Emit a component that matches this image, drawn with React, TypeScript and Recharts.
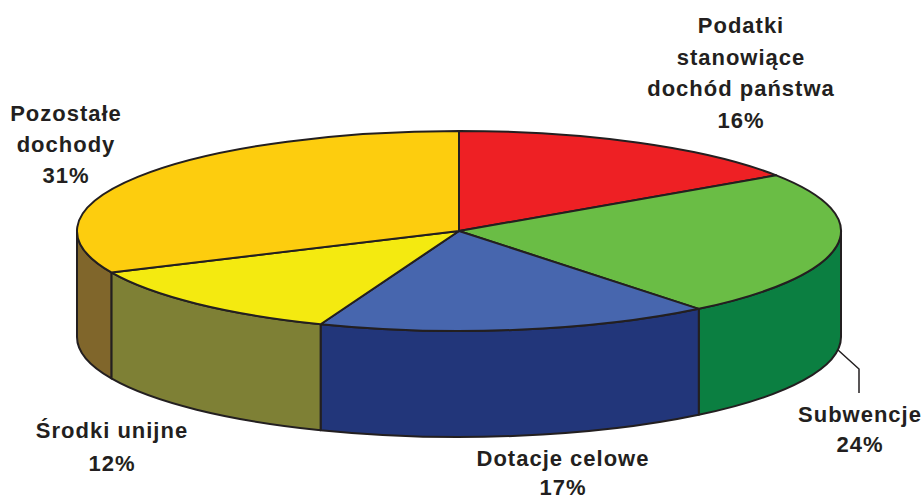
import React from 'react';
import { PieChart, Pie } from 'recharts';

const categories = ['Podatki stanowiące dochód państwa', 'Subwencje', 'Dotacje celowe', 'Środki unijne', 'Pozostałe dochody'];
const printedPercents = [16, 24, 17, 12, 31];
// Slice sweeps as drawn in the picture (in % of the full circle)
const sliceShares = [15.6, 23.6, 16.7, 12.3, 31.8];
const topColors = ['#ee2024', '#6abd45', '#4766ae', '#f4ea10', '#fdcd0e'];
const wallColors = ['#a01518', '#0b7f41', '#22367a', '#7e8035', '#80662b'];
const labelLines = [
  ['Podatki', 'stanowiące', 'dochód państwa'],
  ['Subwencje'],
  ['Dotacje celowe'],
  ['Środki unijne'],
  ['Pozostałe', 'dochody'],
];

const labelAnchors = [
  { x: 741, y: 33, step: 31.7 },
  { x: 860, y: 422, step: 30 },
  { x: 563, y: 466, step: 29 },
  { x: 112, y: 438, step: 33 },
  { x: 66, y: 121, step: 31 },
];

const W = 924;
const H = 499;
const CX = 459;
const CY = 231;
const RX = 382;
const TILT = 100 / 382;
const DEPTH = 106;
const INK = '#231f20';

const rows = categories.map((name, i) => ({
  name,
  value: sliceShares[i],
  percent: printedPercents[i],
}));

const rowIndex = (p: any) => categories.indexOf(p.name);

const pt = (p: any, thetaDeg: number, dy = 0) => {
  const t = (thetaDeg * Math.PI) / 180;
  const x = p.cx + p.outerRadius * Math.sin(t);
  const y = p.cy - p.outerRadius * TILT * Math.cos(t) + dy;
  return `${x.toFixed(2)} ${y.toFixed(2)}`;
};

const TopSlice = (p: any) => {
  const a = 90 - p.startAngle;
  const b = 90 - p.endAngle;
  const rx = p.outerRadius;
  const ry = rx * TILT;
  const large = b - a > 180 ? 1 : 0;
  const d = `M ${p.cx} ${p.cy} L ${pt(p, a)} A ${rx} ${ry} 0 ${large} 1 ${pt(p, b)} Z`;
  return <path d={d} fill={topColors[p.index ?? rowIndex(p)]} stroke={INK} strokeWidth={2} strokeLinejoin="round" />;
};

const WallSlice = (p: any) => {
  const a = Math.max(90 - p.startAngle, 90);
  const b = Math.min(90 - p.endAngle, 270);
  if (b <= a) return <g />;
  const rx = p.outerRadius;
  const ry = rx * TILT;
  const d =
    `M ${pt(p, a)} A ${rx} ${ry} 0 0 1 ${pt(p, b)} ` +
    `L ${pt(p, b, DEPTH)} A ${rx} ${ry} 0 0 0 ${pt(p, a, DEPTH)} Z`;
  return <path d={d} fill={wallColors[p.index ?? rowIndex(p)]} stroke={INK} strokeWidth={2} strokeLinejoin="round" />;
};

const SliceLabel = (p: any) => {
  const i = p.index ?? rowIndex(p);
  const anchor = labelAnchors[i];
  const lines = [...labelLines[i], `${printedPercents[i]}%`];
  return (
    <g>
      {i === 1 && <polyline points="838,350 859,369 859,393" fill="none" stroke={INK} strokeWidth={1.5} />}
      <text
        textAnchor="middle"
        fontFamily="'Liberation Sans', Arial, sans-serif"
        fontWeight={700}
        fontSize={22}
        letterSpacing={1}
        fill={INK}
      >
        {lines.map((line, k) => (
          <tspan key={k} x={anchor.x} y={anchor.y + k * anchor.step}>
            {line}
          </tspan>
        ))}
      </text>
    </g>
  );
};

export default function App() {
  return (
    <div style={{ position: 'absolute', left: 0, top: 0, width: W, height: H, background: '#fff' }}>
      <PieChart width={W} height={H} margin={{ top: 0, right: 0, bottom: 0, left: 0 }}>
        <Pie
          data={rows}
          dataKey="value"
          nameKey="name"
          cx={CX}
          cy={CY}
          innerRadius={0}
          outerRadius={RX}
          startAngle={90}
          endAngle={-270}
          isAnimationActive={false}
          shape={WallSlice}
          label={false}
        />
        <Pie
          data={rows}
          dataKey="value"
          nameKey="name"
          cx={CX}
          cy={CY}
          innerRadius={0}
          outerRadius={RX}
          startAngle={90}
          endAngle={-270}
          isAnimationActive={false}
          shape={TopSlice}
          label={SliceLabel}
          labelLine={false}
        />
      </PieChart>
    </div>
  );
}
